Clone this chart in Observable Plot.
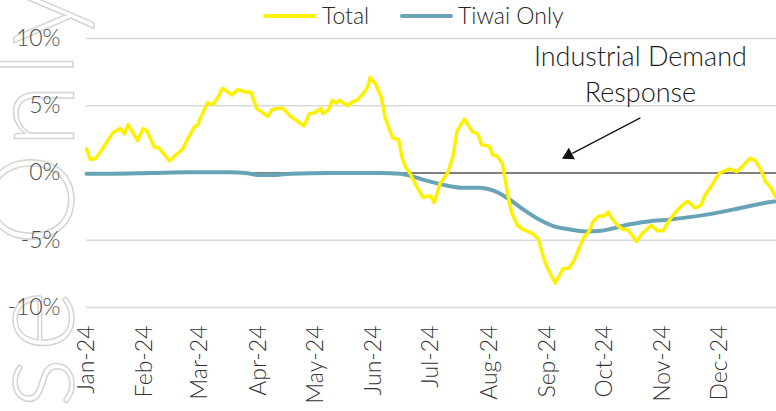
<!DOCTYPE html>
<html>
<head>
<meta charset="utf-8">
<script src="https://cdn.jsdelivr.net/npm/d3@7"></script>
<script src="https://cdn.jsdelivr.net/npm/@observablehq/plot@0.6"></script>
<style>
  html, body { margin: 0; padding: 0; background: #fff; }
  #wrap { position: relative; width: 776px; height: 411px; overflow: hidden; font-family: Lato, sans-serif; }
  #wm { position: absolute; left: 0; top: 0; z-index: 0; }
  #chart { position: absolute; left: 0; top: 0; z-index: 1; }
  #legend { position: absolute; left: 0; top: 0; width: 776px; height: 34px; z-index: 2; }
  .sw { position: absolute; height: 4px; border-radius: 2px; }
  .lt { position: absolute; font-size: 23px; font-weight: 300; color: #262626; line-height: 1; }
</style>
</head>
<body>
<div id="wrap">
  <svg id="wm" width="776" height="411"></svg>
  <div id="chart"></div>
  <div id="legend"></div>
</div>
<script>
// ---- data (percent change) ----
const seriesNames = ["Total", "Tiwai Only"];
const seriesColors = ["#FFF000", "#69A3B8"];

const totalDates = [
  "2024-01-01","2024-01-03","2024-01-06","2024-01-08","2024-01-15","2024-01-19","2024-01-21","2024-01-23",
  "2024-01-28","2024-01-31","2024-02-02","2024-02-06","2024-02-08","2024-02-11","2024-02-14","2024-02-17",
  "2024-02-21","2024-02-23","2024-02-27","2024-02-29","2024-03-01","2024-03-05","2024-03-08","2024-03-10",
  "2024-03-13","2024-03-18","2024-03-21","2024-03-26","2024-03-28","2024-03-31","2024-04-02","2024-04-06",
  "2024-04-08","2024-04-11","2024-04-14","2024-04-18","2024-04-25","2024-04-28","2024-05-01","2024-05-04",
  "2024-05-05","2024-05-08","2024-05-10","2024-05-12","2024-05-14","2024-05-18","2024-05-21","2024-05-23",
  "2024-05-27","2024-05-29","2024-05-30","2024-06-02","2024-06-05","2024-06-07","2024-06-11","2024-06-14",
  "2024-06-16","2024-06-18","2024-06-20","2024-06-24","2024-06-27","2024-07-01","2024-07-03","2024-07-06",
  "2024-07-10","2024-07-13","2024-07-15","2024-07-17","2024-07-19","2024-07-23","2024-07-26","2024-07-28",
  "2024-08-01","2024-08-03","2024-08-05","2024-08-08","2024-08-11","2024-08-13","2024-08-16","2024-08-19",
  "2024-08-24","2024-08-27","2024-08-30","2024-09-01","2024-09-05","2024-09-08","2024-09-09","2024-09-12",
  "2024-09-15","2024-09-17","2024-09-20","2024-09-23","2024-09-25","2024-09-28","2024-10-01","2024-10-03",
  "2024-10-05","2024-10-08","2024-10-11","2024-10-13","2024-10-16","2024-10-18","2024-10-21","2024-10-24",
  "2024-10-26","2024-10-29","2024-11-01","2024-11-03","2024-11-06","2024-11-09","2024-11-12","2024-11-14",
  "2024-11-18","2024-11-21","2024-11-23","2024-11-26","2024-11-29","2024-12-01","2024-12-06","2024-12-10",
  "2024-12-13","2024-12-17","2024-12-20","2024-12-23","2024-12-25","2024-12-28","2024-12-31"
];
const totalValues = [
  1.8,1.0,1.1,1.5,3.0,3.3,2.9,3.6,
  2.4,3.3,3.1,1.9,1.9,1.4,0.9,1.3,
  1.8,2.4,3.4,3.6,4.0,5.2,5.1,5.5,
  6.3,5.8,6.2,6.0,6.0,4.8,4.6,4.2,
  4.7,4.8,4.8,4.2,3.5,4.4,4.5,4.8,
  4.4,4.7,5.4,5.2,5.4,5.0,5.3,5.4,
  6.0,6.5,7.1,6.6,5.6,4.1,2.6,2.5,
  1.1,0.4,0.0,-1.1,-1.8,-1.7,-2.2,-0.8,
  0.0,1.3,3.1,3.6,4.0,3.1,2.9,2.1,
  2.0,1.3,1.3,0.7,-1.7,-3.0,-3.9,-4.2,
  -4.5,-4.9,-6.4,-7.1,-8.2,-7.4,-7.1,-7.1,
  -6.5,-5.8,-4.8,-4.3,-3.6,-3.2,-3.2,-2.9,
  -3.4,-3.9,-4.2,-4.2,-4.7,-5.1,-4.5,-4.1,
  -3.9,-4.3,-4.3,-3.8,-3.2,-2.7,-2.3,-2.1,
  -2.6,-2.4,-1.7,-1.1,-0.4,0.0,0.3,0.1,
  0.5,1.1,0.9,0.15,-0.6,-1.1,-1.9
];

const tiwaiDates = [
  "2024-01-01","2024-01-14","2024-02-04","2024-02-25","2024-03-17","2024-03-25","2024-04-02","2024-04-10",
  "2024-04-18","2024-05-09","2024-06-05","2024-06-15","2024-06-20","2024-06-26","2024-07-04","2024-07-10",
  "2024-07-18","2024-07-27","2024-08-03","2024-08-11","2024-08-19","2024-08-28","2024-09-04","2024-09-13",
  "2024-09-22","2024-09-29","2024-10-06","2024-10-13","2024-10-24","2024-11-05","2024-11-14","2024-11-28",
  "2024-12-12","2024-12-24","2024-12-31"
];
const tiwaiValues = [
  -0.05,-0.05,0.0,0.05,0.05,0.0,-0.15,-0.15,
  -0.05,0.0,0.0,-0.05,-0.2,-0.45,-0.75,-0.95,
  -1.1,-1.1,-1.3,-1.9,-2.7,-3.5,-3.95,-4.2,
  -4.35,-4.3,-4.1,-3.85,-3.6,-3.45,-3.3,-3.0,
  -2.6,-2.25,-2.1
];

const yTicks = [-10, -5, 0, 5, 10];
const xDomain = ["2024-01-01", "2024-12-31"];

// annotation
const annoText = "Industrial Demand\nResponse";
const annoPos = {date: "2024-10-20", value: 7.5};
const arrowFrom = {date: "2024-10-20", value: 4.1};
const arrowTo = {date: "2024-09-14", value: 1.46};
const arrowHead = {date: "2024-09-12", value: 1.32};
const watermarkText = "Internal Use Only";

// ---- build ----
const parse = d3.utcParse("%Y-%m-%d");
const total = totalDates.map((d, i) => ({date: parse(d), value: totalValues[i], series: seriesNames[0]}));
const tiwai = tiwaiDates.map((d, i) => ({date: parse(d), value: tiwaiValues[i], series: seriesNames[1]}));
const months = d3.utcMonth.range(parse("2024-01-01"), parse("2025-01-01"));

const chart = Plot.plot({
  width: 776,
  height: 411,
  marginTop: 38,
  marginBottom: 104,
  marginLeft: 86,
  marginRight: 0,
  style: {background: "transparent", fontFamily: "Lato, sans-serif", overflow: "visible"},
  x: {type: "utc", domain: xDomain.map(parse)},
  y: {domain: [-10, 10]},
  marks: [
    Plot.ruleY(yTicks.filter(d => d !== 0), {stroke: "#d9d9d9", strokeWidth: 1.5}),
    Plot.ruleY([0], {stroke: "#000", strokeWidth: 1}),
    Plot.axisY({ticks: yTicks, tickSize: 0, tickPadding: 26, tickFormat: d => d + "%", fontSize: 23, fontWeight: 300, fill: "#4d4d4d", label: null}),
    Plot.axisX({ticks: months, tickSize: 0, tickPadding: 18, tickRotate: -90, tickFormat: d3.utcFormat("%b-%y"), fontSize: 23, fontWeight: 300, fill: "#333", label: null}),
    Plot.line(tiwai, {x: "date", y: "value", stroke: seriesColors[1], strokeWidth: 4, curve: "monotone-x"}),
    Plot.line(total, {x: "date", y: "value", stroke: seriesColors[0], strokeWidth: 3.5, curve: "linear"}),
    Plot.text([annoPos], {x: d => parse(d.date), y: "value", text: () => annoText, fontSize: 27, fontWeight: 300, fill: "#1a1a1a", lineHeight: 1.33, textAnchor: "middle"}),
    Plot.link([{a: arrowFrom, b: arrowTo}], {x1: d => parse(d.a.date), y1: d => d.a.value, x2: d => parse(d.b.date), y2: d => d.b.value, stroke: "#111", strokeWidth: 1.2}),
    Plot.dot([arrowHead], {x: d => parse(d.date), y: "value", symbol: "triangle", r: 4.8, fill: "#111", stroke: "none", rotate: 242})
  ]
});
document.getElementById("chart").appendChild(chart);

// ---- legend ----
const legend = document.getElementById("legend");
const legendItems = [
  {name: seriesNames[0], color: seriesColors[0], swLeft: 263, swWidth: 53, textLeft: 322},
  {name: seriesNames[1], color: seriesColors[1], swLeft: 400, swWidth: 53, textLeft: 458}
];
legendItems.forEach(it => {
  const sw = document.createElement("div");
  sw.className = "sw";
  sw.style.left = it.swLeft + "px";
  sw.style.top = "14px";
  sw.style.width = it.swWidth + "px";
  sw.style.background = it.color;
  legend.appendChild(sw);
  const t = document.createElement("div");
  t.className = "lt";
  t.style.left = it.textLeft + "px";
  t.style.top = "4px";
  t.textContent = it.name;
  legend.appendChild(t);
});

// ---- watermark ----
const wm = d3.select("#wm");
wm.append("text")
  .attr("transform", "translate(73,-20) rotate(-90)")
  .attr("text-anchor", "end")
  .attr("font-family", "Lato, sans-serif")
  .attr("font-weight", 300)
  .attr("font-size", 118)
  .attr("letter-spacing", 6)
  .attr("fill", "none")
  .attr("stroke", "#d4d4d4")
  .attr("stroke-width", 1.5)
  .text(watermarkText);
</script>
</body>
</html>
